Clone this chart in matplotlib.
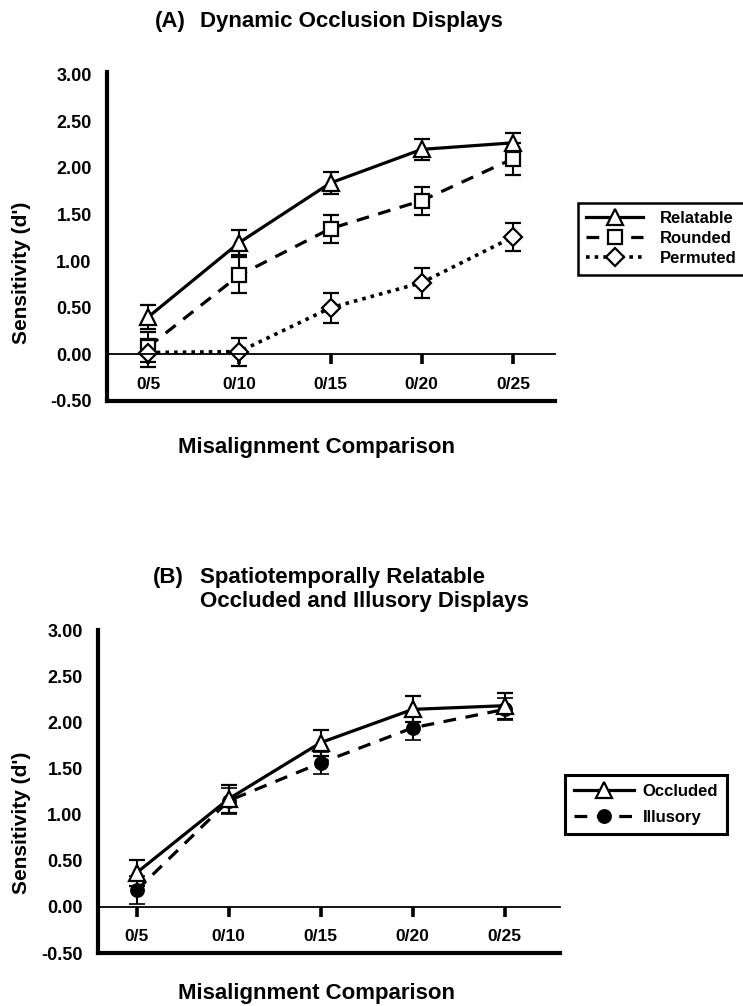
import matplotlib
matplotlib.use("Agg")
import matplotlib.pyplot as plt
from matplotlib.lines import Line2D
import numpy as np

plt.rcParams['font.family'] = ['Liberation Sans', 'DejaVu Sans']
plt.rcParams['font.weight'] = 'bold'

# ---------------- data ----------------
categories = ["0/5", "0/10", "0/15", "0/20", "0/25"]
yticks = [-0.50, 0.00, 0.50, 1.00, 1.50, 2.00, 2.50, 3.00]

relatable = [0.40, 1.20, 1.84, 2.20, 2.27]
relatable_err = [0.13, 0.13, 0.12, 0.11, 0.11]
rounded = [0.08, 0.85, 1.35, 1.65, 2.10]
rounded_err = [0.16, 0.19, 0.15, 0.15, 0.17]
permuted = [0.02, 0.03, 0.50, 0.77, 1.26]
permuted_err = [0.15, 0.15, 0.16, 0.16, 0.15]

occluded = [0.37, 1.17, 1.78, 2.14, 2.18]
occluded_err = [0.14, 0.15, 0.14, 0.14, 0.14]
illusory = [0.18, 1.15, 1.56, 1.94, 2.14]
illusory_err = [0.15, 0.14, 0.12, 0.13, 0.12]

W, H = 743, 1006
fig = plt.figure(figsize=(W / 100, H / 100), dpi=100)


def px_axes(left, right, top, bottom):
    return fig.add_axes([left / W, 1 - bottom / H, (right - left) / W, (bottom - top) / H])


def style_axes(ax, xlim, ylim):
    x = np.arange(len(categories))
    ax.set_xlim(*xlim)
    ax.set_ylim(*ylim)
    for s in ['top', 'right']:
        ax.spines[s].set_visible(False)
    ax.spines['left'].set_linewidth(3.0)
    ax.spines['bottom'].set_position(('data', 0))
    ax.spines['bottom'].set_linewidth(1.3)
    ax.axhline(ylim[0], color='black', lw=3.0, clip_on=False, zorder=5)
    ax.set_xticks(x)
    ax.set_xticklabels(categories, fontsize=12.5, fontweight='bold')
    ax.tick_params(axis='x', direction='out', length=7, width=2.6, pad=9)
    ax.set_yticks(yticks)
    ax.set_yticklabels([f"{v:.2f}" for v in yticks], fontsize=13, fontweight='bold')
    ax.tick_params(axis='y', length=0, pad=11)
    ax.patch.set_alpha(0)


ebkw = dict(ecolor='black', elinewidth=1.5, capsize=5.5, capthick=1.8)

styles = {
    'relatable': dict(color='black', ls='-', lw=2.3, marker='^', ms=12, mfc='white', mec='black', mew=1.6),
    'rounded': dict(color='black', ls=(0, (4, 3)), lw=2.3, marker='s', ms=9.5, mfc='white', mec='black', mew=1.6),
    'permuted': dict(color='black', ls=(0, (1, 1.4)), lw=2.6, marker='D', ms=9.5, mfc='white', mec='black', mew=1.6),
    'occluded': dict(color='black', ls='-', lw=2.3, marker='^', ms=12, mfc='white', mec='black', mew=1.6),
    'illusory': dict(color='black', ls=(0, (4, 3)), lw=2.3, marker='o', ms=9.5, mfc='black', mec='black', mew=1.2),
}

# ---------------- panel A ----------------
axA = px_axes(107, 555, 72, 401)
xA = np.arange(len(categories))
axA.errorbar(xA, relatable, yerr=relatable_err, **styles['relatable'], **ebkw)
axA.errorbar(xA, rounded, yerr=rounded_err, **styles['rounded'], **ebkw)
axA.errorbar(xA, permuted, yerr=permuted_err, **styles['permuted'], **ebkw)
style_axes(axA, (-0.45, 4.46), (-0.5, 3.03))

hA = [Line2D([], [], **styles[k]) for k in ['relatable', 'rounded', 'permuted']]
legA = fig.legend(hA, ["Relatable", "Rounded", "Permuted"],
                  loc='upper left', bbox_to_anchor=(578 / W, 1 - 203 / H),
                  bbox_transform=fig.transFigure, borderaxespad=0,
                  prop={'weight': 'bold', 'size': 12},
                  handlelength=3.4, handletextpad=1.0, labelspacing=0.3,
                  borderpad=0.5, fancybox=False, framealpha=1, edgecolor='black')
legA.get_frame().set_linewidth(1.8)

# ---------------- panel B ----------------
axB = px_axes(98, 560, 630, 953)
xB = np.arange(len(categories))
axB.errorbar(xB, occluded, yerr=occluded_err, zorder=3, **styles['occluded'], **ebkw)
axB.errorbar(xB, illusory, yerr=illusory_err, zorder=2, **styles['illusory'], **ebkw)
style_axes(axB, (-0.42, 4.6), (-0.5, 3.0))

hB = [Line2D([], [], **styles[k]) for k in ['occluded', 'illusory']]
legB = fig.legend(hB, ["Occluded", "Illusory"],
                  loc='upper left', bbox_to_anchor=(565 / W, 1 - 775 / H),
                  bbox_transform=fig.transFigure, borderaxespad=0,
                  prop={'weight': 'bold', 'size': 12},
                  handlelength=3.6, handletextpad=0.5, labelspacing=0.65,
                  borderpad=0.55, fancybox=False, framealpha=1, edgecolor='black')
legB.get_frame().set_linewidth(2.2)

# ---------------- texts ----------------
tfs = 16
fig.text(155 / W, 1 - 22 / H, "(A)", fontsize=tfs, fontweight='bold', ha='left', va='center')
fig.text(200 / W, 1 - 22 / H, "Dynamic Occlusion Displays", fontsize=tfs, fontweight='bold',
         ha='left', va='center')
fig.text(153 / W, 1 - 577 / H, "(B)", fontsize=tfs, fontweight='bold', ha='left', va='center')
fig.text(200 / W, 1 - 577 / H, "Spatiotemporally Relatable", fontsize=tfs, fontweight='bold',
         ha='left', va='center')
fig.text(200 / W, 1 - 602 / H, "Occluded and Illusory Displays", fontsize=tfs, fontweight='bold',
         ha='left', va='center')

fig.text(316 / W, 1 - 447 / H, "Misalignment Comparison", fontsize=tfs, fontweight='bold',
         ha='center', va='center')
fig.text(316 / W, 1 - 993 / H, "Misalignment Comparison", fontsize=tfs, fontweight='bold',
         ha='center', va='center')

fig.text(22 / W, 1 - 273 / H, "Sensitivity (d')", fontsize=15, fontweight='bold',
         ha='center', va='center', rotation=90)
fig.text(22 / W, 1 - 823 / H, "Sensitivity (d')", fontsize=15, fontweight='bold',
         ha='center', va='center', rotation=90)

fig.savefig("out.png", dpi=100, facecolor='white')
